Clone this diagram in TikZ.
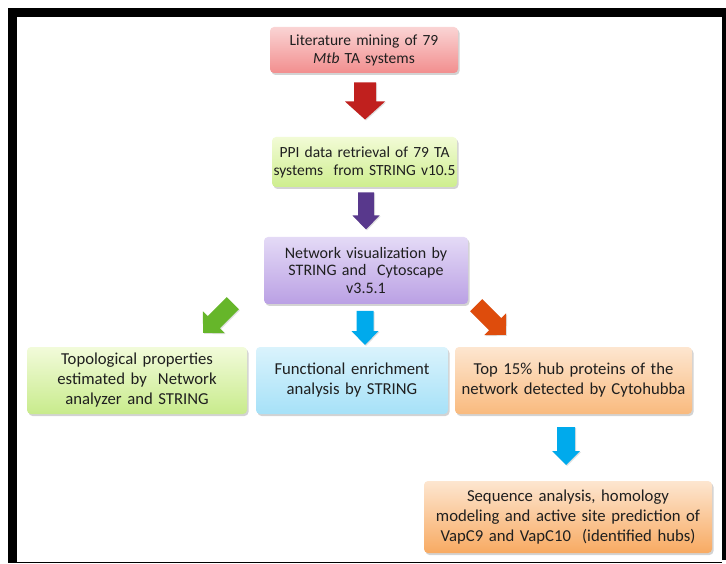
\documentclass[tikz,border=0pt]{standalone}
\usepackage{fontspec}
\setmainfont{Carlito}
\usetikzlibrary{shadows,calc}
\definecolor{c1t}{RGB}{250,212,212}\definecolor{c1b}{RGB}{242,142,142}
\definecolor{c2t}{RGB}{242,251,214}\definecolor{c2b}{RGB}{206,238,142}
\definecolor{c3t}{RGB}{228,218,246}\definecolor{c3b}{RGB}{186,160,228}
\definecolor{c4t}{RGB}{242,251,218}\definecolor{c4b}{RGB}{200,235,140}
\definecolor{c5t}{RGB}{218,243,252}\definecolor{c5b}{RGB}{166,225,248}
\definecolor{c6t}{RGB}{253,230,208}\definecolor{c6b}{RGB}{249,186,126}
\definecolor{c7t}{RGB}{253,230,208}\definecolor{c7b}{RGB}{248,170,98}
\definecolor{ared}{RGB}{192,32,30}
\definecolor{apur}{RGB}{88,56,140}
\definecolor{agrn}{RGB}{102,182,42}
\definecolor{ablu}{RGB}{0,170,236}
\definecolor{aorg}{RGB}{222,76,12}
\newcommand{\blkarrow}[7]{%
  \begin{scope}[shift={(#1)},rotate=#2]
  \fill[#7,drop shadow={opacity=0.25,shadow xshift=1pt,shadow yshift=-1pt}]
    (-#3/2,-#4/2) -- (#3/2-#6,-#4/2) -- (#3/2-#6,-#5/2) -- (#3/2,0)
    -- (#3/2-#6,#5/2) -- (#3/2-#6,#4/2) -- (-#3/2,#4/2) -- cycle;
  \end{scope}}
\tikzset{
  box/.style={rounded corners=4pt, inner sep=0pt, align=center,
    text=black!88,
    drop shadow={opacity=0.35,shadow xshift=1.5pt,shadow yshift=-2pt}},
  smallf/.style={font=\fontsize{15.5}{18}\selectfont},
  midf/.style={font=\fontsize{16}{17.5}\selectfont},
  bigf/.style={font=\fontsize{16.7}{20}\selectfont},
}
\begin{document}
\begin{tikzpicture}[x=1pt,y=1pt]
\useasboundingbox (0,0) rectangle (726,-564);
% frame
\fill[black] (8,-8) rectangle (726,-17);
\fill[black] (8,-8) rectangle (17,-563);
\fill[black] (722,-8) rectangle (726,-560);
\fill[black] (17,-561.5) rectangle (722,-563);
% boxes
\node[box, smallf, top color=c1t, bottom color=c1b, minimum width=188pt, minimum height=46pt, text width=184pt] (b1) at (364,-50)
  {Literature mining of 79\\\textit{Mtb} TA systems};
\node[box, smallf, top color=c2t, bottom color=c2b, minimum width=185pt, minimum height=50pt, text width=183pt] (b2) at (364.5,-162)
  {PPI data retrieval of 79 TA\\systems\ \ from STRING v10.5};
\node[box, midf, top color=c3t, bottom color=c3b, minimum width=204pt, minimum height=67pt, text width=200pt] (b3) at (366,-270.5)
  {Network visualization by\\STRING and\ \ Cytoscape\\v3.5.1};
\node[box, bigf, top color=c4t, bottom color=c4b, minimum width=220pt, minimum height=67pt, text width=216pt] (b4) at (137,-380.5)
  {Topological properties\\estimated by\ \ Network\\analyzer and STRING};
\node[box, bigf, top color=c5t, bottom color=c5b, minimum width=192pt, minimum height=67pt, text width=188pt] (b5) at (352,-380.5)
  {Functional enrichment\\analysis by STRING};
\node[box, bigf, top color=c6t, bottom color=c6b, minimum width=237pt, minimum height=67pt, text width=235pt] (b6) at (573.5,-380.5)
  {Top 15\% hub proteins of the\\network detected by Cytohubba};
\node[box, bigf, top color=c7t, bottom color=c7b, minimum width=288pt, minimum height=72pt, text width=286pt] (b7) at (568,-517)
  {Sequence analysis, homology\\modeling and active site prediction of\\VapC9 and VapC10\ \ (identified hubs)};
% block arrows
\blkarrow{365,-101}{-90}{37}{22}{40}{18}{ared}
\blkarrow{366,-211}{-90}{37}{16}{27}{14}{apur}
\blkarrow{218,-318}{225}{42}{17}{31}{15}{agrn}
\blkarrow{365,-328}{-90}{34}{17}{27}{14}{ablu}
\blkarrow{491,-320}{-45}{42}{17}{31}{15}{aorg}
\blkarrow{566,-446}{-90}{38}{18}{28}{14}{ablu}
\end{tikzpicture}
\end{document}
